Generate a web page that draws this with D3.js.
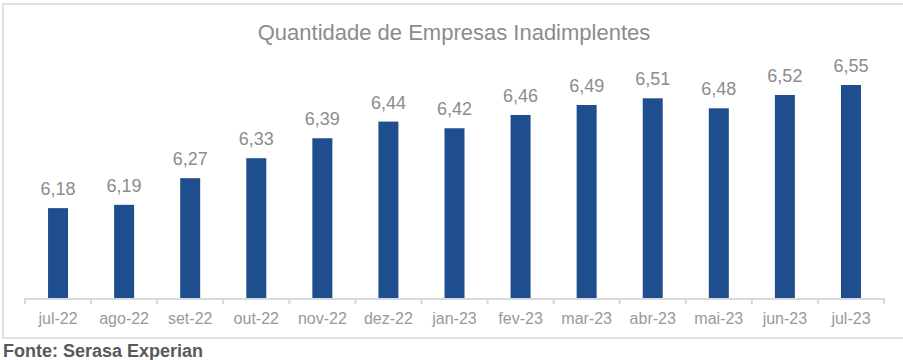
<!DOCTYPE html>
<html><head><meta charset="utf-8">
<script src="https://cdn.jsdelivr.net/npm/d3@7"></script>
<style>html,body{margin:0;padding:0;background:#fff;}svg{display:block;}</style>
</head><body>
<script>
const categories = ["jul-22","ago-22","set-22","out-22","nov-22","dez-22","jan-23","fev-23","mar-23","abr-23","mai-23","jun-23","jul-23"];
const values = [6.18,6.19,6.27,6.33,6.39,6.44,6.42,6.46,6.49,6.51,6.48,6.52,6.55];
const title = "Quantidade de Empresas Inadimplentes";
const source = "Fonte: Serasa Experian";

const W = 903, H = 360;
const svg = d3.select("body").append("svg").attr("width", W).attr("height", H);
const font = "Arial, 'Liberation Sans', sans-serif";

svg.append("rect").attr("x", 3).attr("y", 4).attr("width", 910).attr("height", 334)
  .attr("fill", "#fff").attr("stroke", "#d9d9d9").attr("stroke-width", 1.5);

svg.append("text").attr("x", 454).attr("y", 40).attr("text-anchor", "middle")
  .attr("font-family", font).attr("font-size", 22).attr("fill", "#8c8c8c").text(title);

const x = d3.scaleBand().domain(categories).range([25, 884]);
const y = d3.scaleLinear().domain([5.91, 6.55]).range([298, 85]);
const fmt = v => v.toFixed(2).replace(".", ",");
const bw = 20;

svg.selectAll("rect.bar").data(values).join("rect").attr("class", "bar")
  .attr("x", (d, i) => x(categories[i]) + x.bandwidth() / 2 - bw / 2)
  .attr("width", bw)
  .attr("y", d => y(d))
  .attr("height", d => y.range()[0] - y(d))
  .attr("fill", "#1f4e8e");

svg.selectAll("text.val").data(values).join("text").attr("class", "val")
  .attr("x", (d, i) => x(categories[i]) + x.bandwidth() / 2)
  .attr("y", d => y(d) - 13)
  .attr("text-anchor", "middle").attr("font-family", font).attr("font-size", 18)
  .attr("fill", "#8c8c8c").text(d => fmt(d));

// axis
const ax = svg.append("g");
ax.append("line").attr("x1", 25).attr("x2", 884).attr("y1", 299).attr("y2", 299)
  .attr("stroke", "#d9d9d9").attr("stroke-width", 2);
const ticks = categories.map(c => x(c)).concat([x.range()[1]]);
ax.selectAll("line.tk").data(ticks).join("line").attr("class", "tk")
  .attr("x1", d => d).attr("x2", d => d).attr("y1", 298).attr("y2", 304)
  .attr("stroke", "#d9d9d9").attr("stroke-width", 2);
ax.selectAll("text.cat").data(categories).join("text").attr("class", "cat")
  .attr("x", d => x(d) + x.bandwidth() / 2).attr("y", 323.5)
  .attr("text-anchor", "middle").attr("font-family", font).attr("font-size", 16)
  .attr("fill", "#999999").text(d => d);

svg.append("text").attr("x", 3).attr("y", 356.5).attr("font-family", font)
  .attr("font-size", 18).attr("font-weight", "bold").attr("fill", "#595959").text(source);
</script>
</body></html>
